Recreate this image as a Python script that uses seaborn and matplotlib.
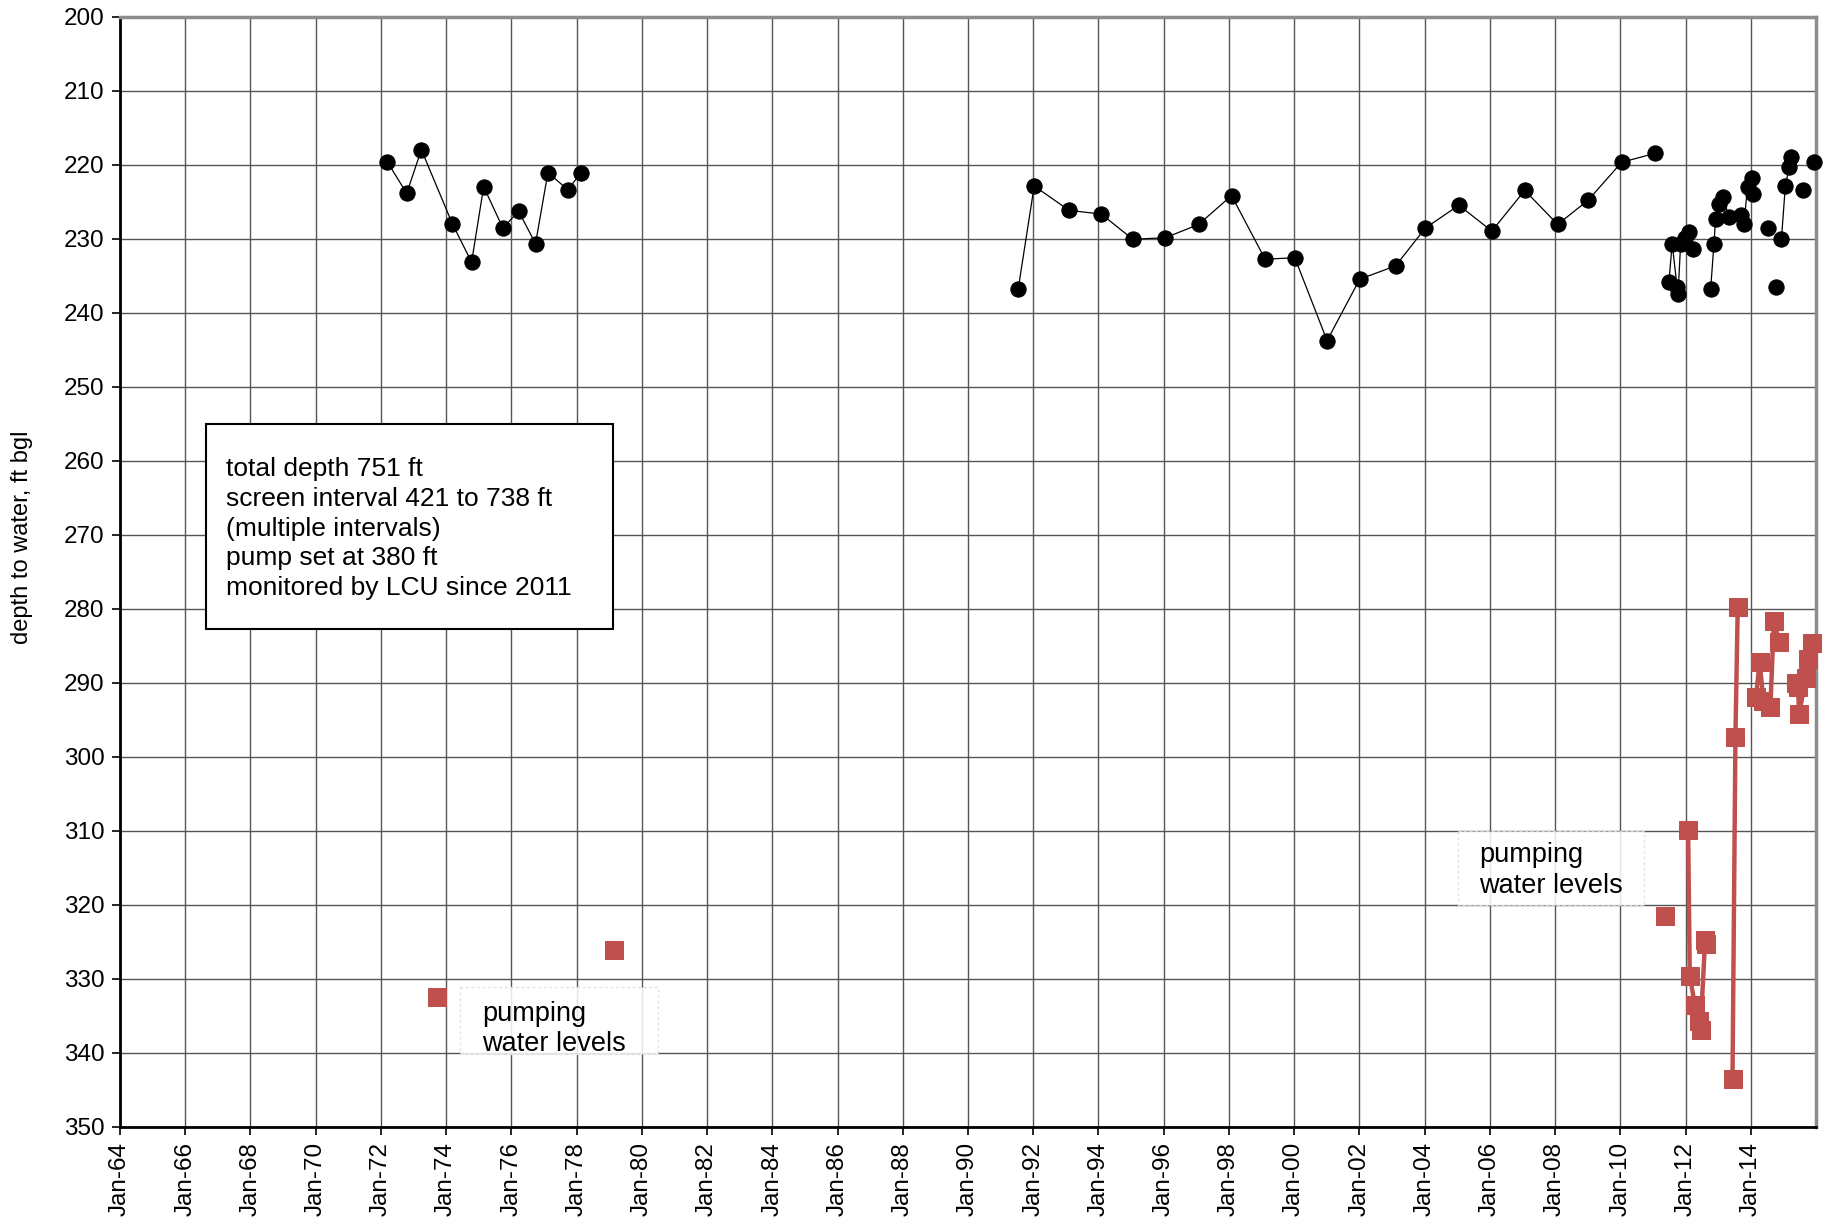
import pandas as pd
import matplotlib.pyplot as plt
import matplotlib.patches as mpatches
import seaborn as sns

# water level data (decimal years, depth in ft bgl)
# seg splits the record where the original chart has gaps in the line
static_year = [1972.19, 1972.79, 1973.24, 1974.19, 1974.78, 1975.15, 1975.74, 1976.22,
               1976.74, 1977.12, 1977.73, 1978.14,
               1991.54, 1992.03, 1993.10, 1994.09, 1995.05, 1996.05, 1997.07, 1998.08,
               1999.11, 2000.02, 2001.01, 2002.01, 2003.11, 2004.02, 2005.05, 2006.06,
               2007.07, 2008.08, 2009.02, 2010.04, 2011.06,
               2011.49, 2011.59, 2011.74, 2011.77, 2011.85, 2011.98, 2012.10, 2012.23,
               2012.77, 2012.87, 2012.92, 2013.03, 2013.15, 2013.33, 2013.69, 2013.79,
               2013.90, 2014.05, 2014.07,
               2014.54, 2014.77,
               2014.94, 2015.06, 2015.18, 2015.23,
               2015.59, 2015.95]
static_depth = [219.6, 223.9, 218.0, 228.0, 233.2, 223.0, 228.6, 226.3,
                230.7, 221.1, 223.4, 221.1,
                236.8, 222.9, 226.2, 226.7, 230.1, 229.9, 228.1, 224.2,
                232.8, 232.6, 243.8, 235.5, 233.7, 228.6, 225.5, 229.0,
                223.5, 228.1, 224.8, 219.7, 218.5,
                235.9, 230.7, 236.5, 237.5, 230.7, 229.9, 229.1, 231.4,
                236.8, 230.8, 227.4, 225.3, 224.4, 227.1, 226.8, 228.1,
                223.0, 221.8, 224.0,
                228.6, 236.5,
                230.1, 222.9, 220.3, 219.0,
                223.4, 219.6]
static_seg = [1] * 12 + [2] * 21 + [3] * 8 + [4] * 11 + [5, 6] + [7] * 4 + [8, 9]

pumping_year = [1973.71, 1979.14, 2011.38,
                2012.08, 2012.13, 2012.29, 2012.41, 2012.46, 2012.60, 2012.64,
                2013.44, 2013.53, 2013.60,
                2014.16, 2014.27, 2014.39, 2014.60, 2014.71, 2014.87,
                2015.38, 2015.48, 2015.45, 2015.69, 2015.76, 2015.87]
pumping_depth = [332.5, 326.1, 321.5,
                 309.9, 329.7, 333.6, 335.7, 336.9, 324.8, 325.4,
                 343.6, 297.3, 279.8,
                 292.0, 287.2, 292.5, 293.3, 281.7, 284.5,
                 290.0, 294.3, 290.6, 289.4, 286.8, 284.6]
pumping_seg = [1, 2, 3] + [4] * 7 + [5] * 3 + [6] * 6 + [7] * 6

tick_years = list(range(1964, 2015, 2))
tick_labels = [f"Jan-{y % 100:02d}" for y in tick_years]

well_notes = ["total depth 751 ft",
              "screen interval 421 to 738 ft",
              "(multiple intervals)",
              "pump set at 380 ft",
              "monitored by LCU since 2011"]

static = pd.DataFrame({"year": static_year, "depth": static_depth, "seg": static_seg})
pumping = pd.DataFrame({"year": pumping_year, "depth": pumping_depth, "seg": pumping_seg})

sns.set_style("white")
plt.rcParams["font.family"] = ["Liberation Sans", "DejaVu Sans"]
for key in ["text.color", "axes.labelcolor", "xtick.color", "ytick.color"]:
    plt.rcParams[key] = "black"

fig = plt.figure(figsize=(18.26, 12.2), dpi=100)
ax = fig.add_axes([120 / 1826, 1 - 1126.5 / 1220, 1696 / 1826, 1110 / 1220])

sns.lineplot(data=static, x="year", y="depth", units="seg", estimator=None,
             color="black", lw=0.9, marker="o", markersize=11,
             markeredgecolor="black", legend=False, ax=ax, zorder=4, clip_on=False)
sns.lineplot(data=pumping, x="year", y="depth", units="seg", estimator=None,
             color="#C0504D", lw=3.2, marker="s", markersize=13.5,
             markeredgecolor="#C0504D", legend=False, ax=ax, zorder=5, clip_on=False)

ax.set_xlim(1964, 2016)
ax.set_ylim(350, 200)
ax.set_xticks(tick_years)
ax.set_xticklabels(tick_labels, rotation=90, fontsize=17.5)
ax.set_yticks(range(200, 351, 10))
ax.tick_params(axis="y", labelsize=17.5, length=6, width=1.2, pad=5, direction="out", left=True)
ax.tick_params(axis="x", length=6, width=1.2, pad=5, direction="out", bottom=True)
ax.grid(True, color="#555555", lw=1)
ax.set_axisbelow(True)

for side in ["left", "bottom"]:
    ax.spines[side].set_color("black")
    ax.spines[side].set_linewidth(2)
for side in ["top", "right"]:
    ax.spines[side].set_color("#8c8c8c")
    ax.spines[side].set_linewidth(2.5)

ax.set_xlabel("")
ax.set_ylabel("depth to water, ft bgl", fontsize=17)
ax.yaxis.set_label_coords(-0.0515, 0.531)

# well info box
ax.add_patch(mpatches.Rectangle((1966.64, 255.1), 12.48, 27.7, facecolor="white",
                                edgecolor="black", lw=1.5, zorder=6))
ax.text(1967.25, 259.5, "\n".join(well_notes), fontsize=19, va="top", ha="left",
        linespacing=1.31, zorder=7)

# pumping labels, white boxes that let the grid show through faintly
for bx, by, bw, bh in [(1974.43, 331.1, 6.07, 9.1), (2005.01, 310.0, 5.71, 10.0)]:
    ax.add_patch(mpatches.Rectangle((bx, by), bw, bh, facecolor="white", alpha=0.85,
                                    edgecolor="#dddddd", lw=1, ls=(0, (2, 2)), zorder=3))
ax.text(1975.10, 333.0, "pumping\nwater levels", fontsize=19.5, va="top", ha="left",
        linespacing=1.22, zorder=3.5)
ax.text(2005.66, 311.6, "pumping\nwater levels", fontsize=19.5, va="top", ha="left",
        linespacing=1.22, zorder=3.5)

plt.savefig("out.png", dpi=100)
